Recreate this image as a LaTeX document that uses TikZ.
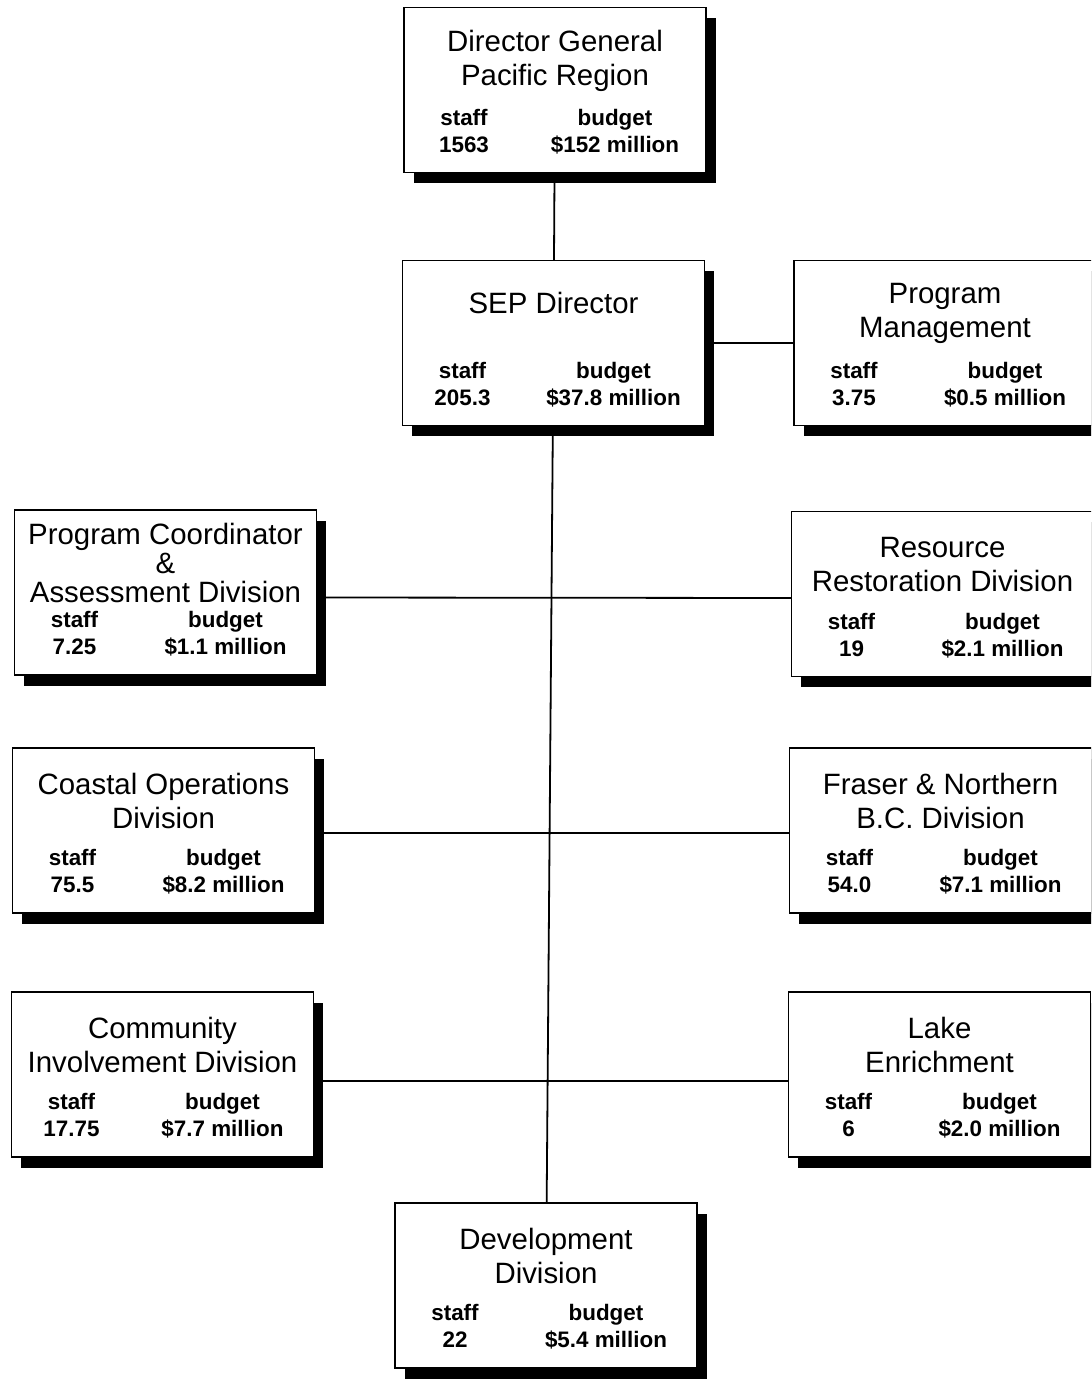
\documentclass[tikz,border=0pt]{standalone}
\usepackage{fontspec}
\setmainfont{Liberation Sans}
\usepackage{array}
\usetikzlibrary{shadows}
\newcolumntype{C}[1]{>{\centering\arraybackslash}p{#1}}

% box text: title on top, staff and budget below
\newcommand{\orgtext}[4][17pt]{%
  \vbox to 82.5pt{\hsize=151pt \parindent=0pt
    \vbox to 50pt{\vskip 3pt plus 1fill
      \fontsize{14.7}{#1}\selectfont\centering #2\par
      \vskip 0pt plus 1fill}%
    \vss
    \nointerlineskip
    \hbox{\fontsize{11.2}{13.5}\selectfont\bfseries
      \begin{tabular}[t]{@{}C{60pt}@{}C{91pt}@{}}
        staff & budget\\ #3 & #4
      \end{tabular}}%
    \vskip 6pt}}

\begin{document}
\begin{tikzpicture}[x=0.5pt,y=-0.5pt,
    orgbox/.style={draw, rectangle, fill=white, line width=0.9pt,
      inner sep=0pt, outer sep=0pt,
      drop shadow={shadow xshift=4.75pt, shadow yshift=-5.25pt, opacity=1, fill=black}},
    link/.style={line width=0.9pt}]
  \clip (0,0) rectangle (1091,1379);

  \node[orgbox] (dg) at (555,90) {\orgtext{Director General\\Pacific Region}{1563}{\$152 million}};
  \node[orgbox] (sep) at (553.5,343) {\orgtext{SEP Director\par\vspace{11pt}}{205.3}{\$37.8 million}};
  \node[orgbox] (pm) at (945,343) {\orgtext{Program\\Management}{3.75}{\$0.5 million}};
  \node[orgbox] (pca) at (165.5,592.5) {\orgtext[14.5pt]{Program Coordinator\\\&\\Assessment Division}{7.25}{\$1.1 million}};
  \node[orgbox] (rrd) at (942.5,594) {\orgtext{Resource\\Restoration Division}{19}{\$2.1 million}};
  \node[orgbox] (cod) at (163.5,830.5) {\orgtext{Coastal Operations\\Division}{75.5}{\$8.2 million}};
  \node[orgbox] (fnbc) at (940.5,830.5) {\orgtext{Fraser \& Northern\\B.C. Division}{54.0}{\$7.1 million}};
  \node[orgbox] (cid) at (162.5,1074.5) {\orgtext{Community\\Involvement Division}{17.75}{\$7.7 million}};
  \node[orgbox] (le) at (939.5,1074.5) {\orgtext{Lake\\Enrichment}{6}{\$2.0 million}};
  \node[orgbox] (dd) at (546,1285.5) {\orgtext{Development\\Division}{22}{\$5.4 million}};

  \draw[link] (dg) -- (sep);
  \draw[link] (sep) -- (pm);
  \draw[link] (sep) -- (dd);
  \draw[link] ([yshift=-2.5pt]pca.east) -- ([yshift=-2pt]rrd.west);
  \draw[link] ([yshift=-1.25pt]cod.east) -- ([yshift=-1.25pt]fnbc.west);
  \draw[link] ([yshift=-3.25pt]cid.east) -- ([yshift=-3.25pt]le.west);
\end{tikzpicture}
\end{document}
